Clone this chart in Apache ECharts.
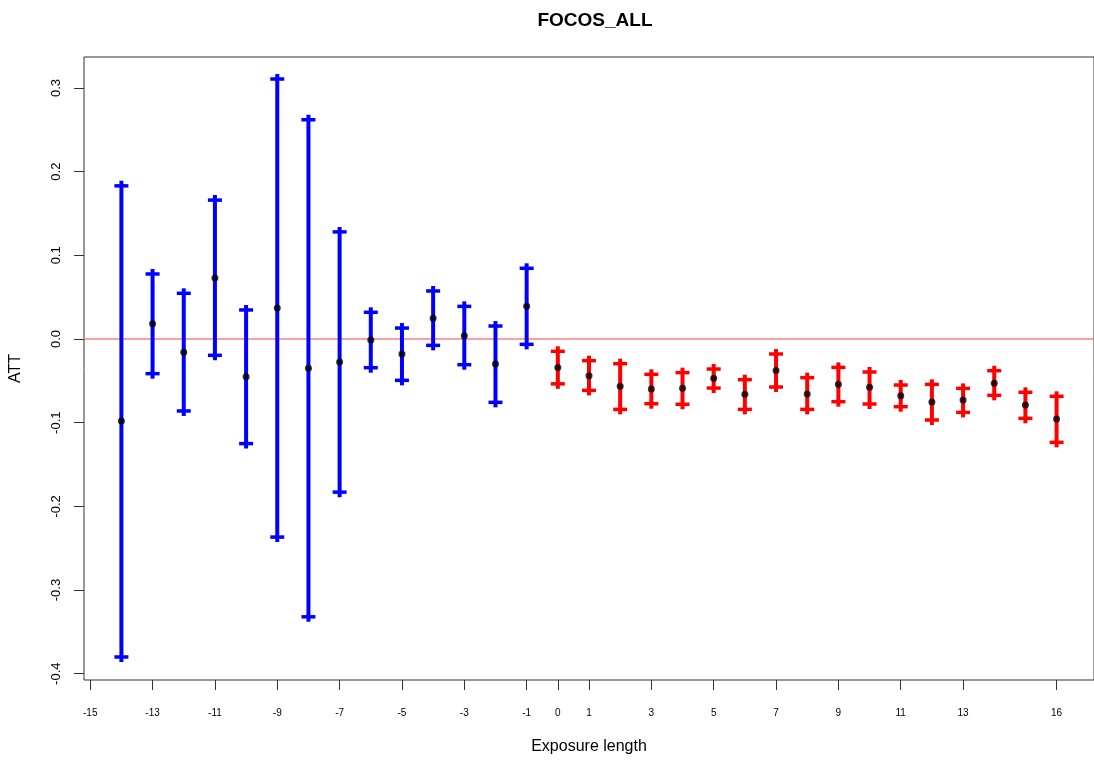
<!DOCTYPE html>
<html>
<head>
<meta charset="utf-8">
<script src="https://cdn.jsdelivr.net/npm/echarts@6/dist/echarts.min.js"></script>
<style>
html,body{margin:0;padding:0;background:#fff;}
#chart{width:1094px;height:760px;}
</style>
</head>
<body>
<div id="chart"></div>
<script>
// Data
const periods = [-14,-13,-12,-11,-10,-9,-8,-7,-6,-5,-4,-3,-2,-1,0,1,2,3,4,5,6,7,8,9,10,11,12,13,14,15,16];
const att = [-0.098,0.0183,-0.0159,0.0729,-0.045,0.037,-0.035,-0.0275,-0.0012,-0.0179,0.0247,0.004,-0.0299,0.039,
  -0.0341,-0.0438,-0.0566,-0.0598,-0.059,-0.047,-0.0661,-0.0375,-0.0657,-0.0542,-0.0578,-0.0677,-0.0753,-0.0729,-0.053,-0.0789,-0.0956];
const upper = [0.183,0.0777,0.0546,0.166,0.0347,0.3107,0.262,0.128,0.0319,0.0131,0.0574,0.039,0.0155,0.0845,
  -0.0147,-0.0259,-0.0295,-0.0422,-0.0402,-0.0359,-0.0486,-0.0179,-0.0462,-0.0339,-0.0394,-0.055,-0.0542,-0.059,-0.0379,-0.0637,-0.0685];
const lower = [-0.380,-0.0414,-0.086,-0.0195,-0.125,-0.2367,-0.332,-0.183,-0.0343,-0.0494,-0.0076,-0.0307,-0.0757,-0.0064,
  -0.0536,-0.0614,-0.0841,-0.0773,-0.078,-0.0586,-0.0841,-0.0574,-0.0841,-0.0749,-0.0777,-0.0809,-0.0968,-0.0877,-0.0673,-0.0948,-0.1235];
const xTicks = [-15,-13,-11,-9,-7,-5,-3,-1,0,1,3,5,7,9,11,13,16];
const yTicks = [-0.4,-0.3,-0.2,-0.1,0.0,0.1,0.2,0.3];

const preData = [], postData = [], pointData = [];
periods.forEach((p, i) => {
  const row = [p, lower[i], upper[i]];
  if (p < 0) preData.push(row); else postData.push(row);
  pointData.push([p, att[i]]);
});

function renderBar(params, api) {
  const x = api.value(0), lo = api.value(1), hi = api.value(2);
  const pHi = api.coord([x, hi]);
  const pLo = api.coord([x, lo]);
  const c = api.visual('color');
  const half = 7, ext = 5;
  return {
    type: 'group',
    children: [
      {type: 'line', shape: {x1: pHi[0], y1: pHi[1] - ext, x2: pLo[0], y2: pLo[1] + ext}, style: {stroke: c, lineWidth: 4}},
      {type: 'line', shape: {x1: pHi[0] - half, y1: pHi[1], x2: pHi[0] + half, y2: pHi[1]}, style: {stroke: c, lineWidth: 3.5}},
      {type: 'line', shape: {x1: pLo[0] - half, y1: pLo[1], x2: pLo[0] + half, y2: pLo[1]}, style: {stroke: c, lineWidth: 3.5}}
    ]
  };
}

const font = '"Liberation Sans", Arial, Helvetica, sans-serif';
const chart = echarts.init(document.getElementById('chart'), null, {renderer: 'canvas'});
chart.setOption({
  animation: false,
  backgroundColor: '#ffffff',
  title: {
    text: 'FOCOS_ALL',
    left: 590, top: 6, textAlign: 'center',
    textStyle: {fontFamily: font, fontSize: 19, fontWeight: 'bold', color: '#000'}
  },
  grid: {left: 83, top: 57, width: 1014, height: 623, show: true, borderColor: '#333', borderWidth: 1, containLabel: false},
  xAxis: {
    type: 'value', min: -15.2, max: 17.2,
    name: 'Exposure length', nameLocation: 'middle', nameGap: 59,
    nameTextStyle: {fontFamily: font, fontSize: 16, color: '#000'},
    axisLine: {show: false, onZero: false},
    splitLine: {show: false},
    axisTick: {show: true, length: 10, customValues: xTicks, lineStyle: {color: '#333', width: 1}},
    axisLabel: {customValues: xTicks, margin: 28, fontFamily: font, fontSize: 10, color: '#000', formatter: v => String(v)}
  },
  yAxis: {
    type: 'value', min: -0.4075, max: 0.337,
    name: 'ATT', nameLocation: 'middle', nameGap: 60, nameRotate: 90,
    nameTextStyle: {fontFamily: font, fontSize: 16, color: '#000'},
    axisLine: {show: false, onZero: false},
    splitLine: {show: false},
    axisTick: {show: true, length: 10, customValues: yTicks, lineStyle: {color: '#333', width: 1}},
    axisLabel: {customValues: yTicks, rotate: 90, margin: 21, fontFamily: font, fontSize: 13, color: '#000', formatter: v => v.toFixed(1)}
  },
  series: [
    {
      type: 'line', data: [[-15.2, 0], [17.2, 0]], symbol: 'none', silent: true, z: 1,
      lineStyle: {color: '#FF7F7F', width: 1.5}
    },
    {type: 'custom', renderItem: renderBar, data: preData, itemStyle: {color: '#0000FF'}, z: 2, encode: {x: 0, y: [1, 2]}},
    {type: 'custom', renderItem: renderBar, data: postData, itemStyle: {color: '#FF0000'}, z: 2, encode: {x: 0, y: [1, 2]}},
    {type: 'scatter', data: pointData, symbol: 'circle', symbolSize: 7, itemStyle: {color: '#000'}, z: 3}
  ]
});
</script>
</body>
</html>
